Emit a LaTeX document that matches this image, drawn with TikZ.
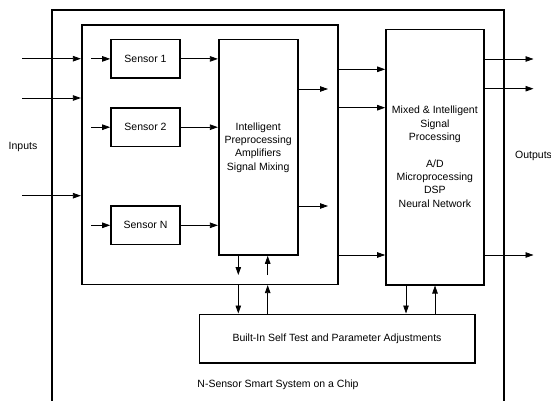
\documentclass[tikz,border=0pt]{standalone}
\usepackage{fontspec}
\setmainfont{Liberation Sans}
\usetikzlibrary{arrows.meta}
\tikzset{
  box/.style={draw, line width=1.6pt, rectangle, inner sep=0pt, align=center},
  arr/.style={line width=0.8pt, -{Triangle[length=8pt,width=5.5pt]}},
  frame/.style={line width=1.6pt},
  txt/.style={font=\fontsize{10.5}{13.3}\selectfont, align=center, inner sep=0pt}
}
\begin{document}
\begin{tikzpicture}[x=1pt,y=-1pt]
\useasboundingbox (0,0) rectangle (551,401);
% outer frame (open at the bottom)
\coordinate (oA) at (52,401);
\coordinate (oB) at (52,10);
\coordinate (oC) at (504,10);
\coordinate (oD) at (504,401);
\draw[frame] (oA) -- (oB) -- (oC) -- (oD);
% group box
\node[box, minimum width=256pt, minimum height=259.3pt] (grp) at (209.7,154.65) {};
% sensors
\node[box, txt, minimum width=69pt, minimum height=38.7pt] (s1) at (145.5,58.9) {Sensor 1};
\node[box, txt, minimum width=69pt, minimum height=38.7pt] (s2) at (145.5,127.2) {Sensor 2};
\node[box, txt, minimum width=69pt, minimum height=38.7pt] (sn) at (145.5,225.3) {Sensor N};
% preprocessing
\node[box, minimum width=79pt, minimum height=215.5pt] (pre) at (258.2,147.25) {};
\node[txt] (pret) at (258.2,147.5) {Intelligent\\Preprocessing\\Amplifiers\\Signal Mixing};
% mixed
\node[box, minimum width=97.7pt, minimum height=255pt] (mix) at (434.85,157.2) {};
\node[txt] (mixt) at (434.85,156.7) {Mixed \& Intelligent\\Signal\\Processing\\[13.3pt]A/D\\Microprocessing\\DSP\\Neural Network};
% self test
\node[box, txt, minimum width=275.4pt, minimum height=48.7pt] (bist) at (337,338.65) {Built-In Self Test and Parameter Adjustments};
% labels
\node[txt] (inl) at (23,147) {Inputs};
\node[txt, anchor=west] (outl) at (515,156) {Outputs};
\node[txt] (cap) at (278,385) {N-Sensor Smart System on a Chip};
% inputs
\coordinate (i1) at (22,58.7);
\coordinate (i2) at (22,98);
\coordinate (i3) at (22,195.7);
\draw[arr] (i1) -- (i1 -| grp.west);
\draw[arr] (i2) -- (i2 -| grp.west);
\draw[arr] (i3) -- (i3 -| grp.west);
% sensor inputs
\coordinate (si1) at (91,58.9);
\coordinate (si2) at (91,127.2);
\coordinate (si3) at (91,225.3);
\draw[arr] (si1) -- (s1.west);
\draw[arr] (si2) -- (s2.west);
\draw[arr] (si3) -- (sn.west);
% sensor outputs
\draw[arr] (s1.east) -- (s1.east -| pre.west);
\draw[arr] (s2.east) -- (s2.east -| pre.west);
\draw[arr] (sn.east) -- (sn.east -| pre.west);
% preprocessing outputs
\coordinate (po1) at (328,89);
\coordinate (po2) at (328,206);
\draw[arr] (po1 -| pre.east) -- (po1);
\draw[arr] (po2 -| pre.east) -- (po2);
% group to mixed
\coordinate (g1) at (350,69.3);
\coordinate (g2) at (350,107.7);
\coordinate (g3) at (350,255);
\draw[arr] (g1 -| grp.east) -- (g1 -| mix.west);
\draw[arr] (g2 -| grp.east) -- (g2 -| mix.west);
\draw[arr] (g3 -| grp.east) -- (g3 -| mix.west);
% outputs
\coordinate (o1) at (533.5,59);
\coordinate (o2) at (533.5,88.7);
\coordinate (o3) at (533.5,255);
\draw[arr] (o1 -| mix.east) -- (o1);
\draw[arr] (o2 -| mix.east) -- (o2);
\draw[arr] (o3 -| mix.east) -- (o3);
% preprocessing vertical arrows
\coordinate (pd) at (238.3,275);
\coordinate (pu) at (267.7,275);
\draw[arr] (pd |- pre.south) -- (pd);
\draw[arr] (pu) -- (pu |- pre.south);
% group to self test
\draw[arr] (pd |- grp.south) -- (pd |- bist.north);
\draw[arr] (pu |- bist.north) -- (pu |- grp.south);
% mixed to self test
\coordinate (md) at (406,300);
\coordinate (mu) at (435,300);
\draw[arr] (md |- mix.south) -- (md |- bist.north);
\draw[arr] (mu |- bist.north) -- (mu |- mix.south);
\end{tikzpicture}
\end{document}
